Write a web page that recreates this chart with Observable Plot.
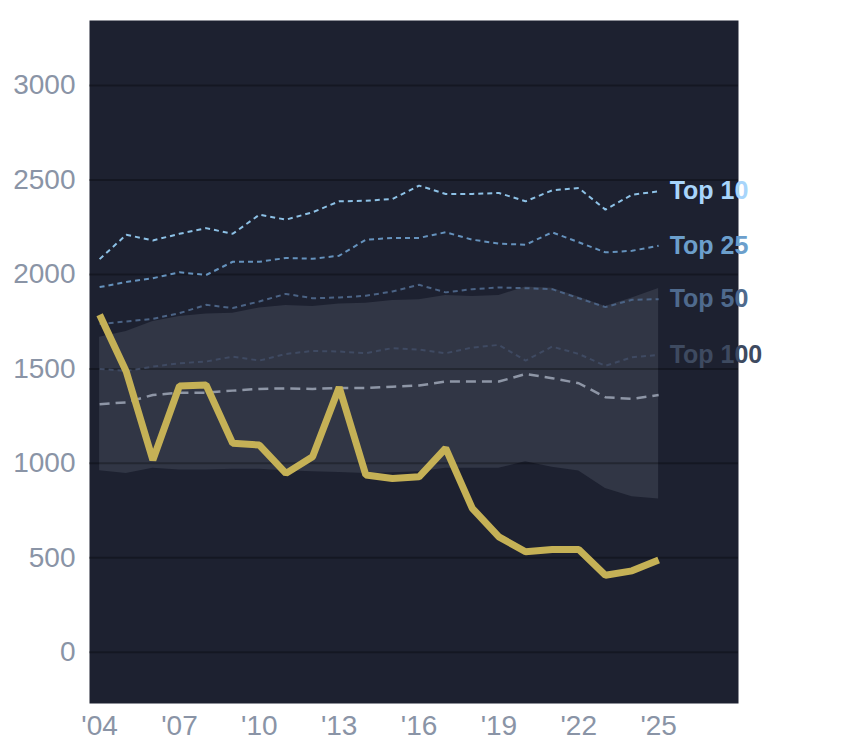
<!DOCTYPE html>
<html>
<head>
<meta charset="utf-8">
<script src="https://cdn.jsdelivr.net/npm/d3@7"></script>
<script src="https://cdn.jsdelivr.net/npm/@observablehq/plot@0.6"></script>
<style>
  html, body { margin: 0; padding: 0; background: #ffffff; }
  #chart { width: 844px; height: 748px; }
</style>
</head>
<body>
<div id="chart"></div>
<script>
const years = [2004, 2005, 2006, 2007, 2008, 2009, 2010, 2011, 2012, 2013, 2014,
               2015, 2016, 2017, 2018, 2019, 2020, 2021, 2022, 2023, 2024, 2025];

const highlight = [1786, 1486, 1018, 1410, 1415, 1106, 1097, 947, 1035, 1403, 938,
                   920, 929, 1080, 762, 611, 532, 544, 544, 408, 431, 488];

const bandLow = [961, 947, 974, 965, 965, 969, 969, 961, 955, 952, 947,
                 950, 956, 974, 974, 974, 1009, 979, 959, 867, 823, 811];
const bandHigh = [1668, 1698, 1751, 1777, 1790, 1795, 1822, 1836, 1830, 1843, 1848,
                  1862, 1866, 1889, 1883, 1889, 1933, 1927, 1880, 1830, 1875, 1925];

const median = [1313, 1323, 1362, 1374, 1374, 1385, 1394, 1397, 1394, 1399, 1399,
                1406, 1412, 1433, 1433, 1433, 1473, 1451, 1424, 1350, 1341, 1362];

const top10 = [2081, 2210, 2180, 2215, 2245, 2215, 2316, 2290, 2329, 2387, 2390,
               2399, 2470, 2426, 2426, 2431, 2387, 2445, 2457, 2343, 2422, 2440];
const top25 = [1933, 1960, 1980, 2011, 1997, 2067, 2067, 2087, 2083, 2099, 2184,
               2193, 2193, 2223, 2184, 2163, 2157, 2223, 2170, 2117, 2125, 2152];
const top50 = [1737, 1751, 1765, 1795, 1839, 1822, 1857, 1897, 1874, 1878, 1887,
               1910, 1945, 1905, 1922, 1931, 1927, 1922, 1874, 1827, 1866, 1869];
const top100 = [1500, 1489, 1512, 1530, 1539, 1565, 1544, 1579, 1595, 1592, 1583,
                1610, 1602, 1583, 1613, 1627, 1544, 1618, 1579, 1516, 1562, 1574];

const tierNames = ["Top 10", "Top 25", "Top 50", "Top 100"];
const tierSeries = [top10, top25, top50, top100];
const tierLineColors = ["#8dc1e6", "#6592bd", "#4b6385", "#3f4a62"];
const tierLabelColors = ["#a8d5fb", "#6c9fcc", "#4f6a8d", "#3e4a60"];

const yTicks = [0, 500, 1000, 1500, 2000, 2500, 3000];
const xTicks = [2004, 2007, 2010, 2013, 2016, 2019, 2022, 2025];
const xTickLabels = ["'04", "'07", "'10", "'13", "'16", "'19", "'22", "'25"];

const rows = years.map((year, i) => ({
  year, highlight: highlight[i], low: bandLow[i], high: bandHigh[i], median: median[i]
}));
const tierRows = tierNames.flatMap((name, k) =>
  years.map((year, i) => ({ tier: name, year, value: tierSeries[k][i] })));
const lastLabels = tierNames.map((name, k) => ({
  tier: name, year: years[years.length - 1], value: tierSeries[k][tierSeries[k].length - 1]
}));

const font = "'Liberation Sans', Arial, Helvetica, sans-serif";

const tierLines = tierNames.map((name, k) =>
  Plot.line(tierRows.filter(d => d.tier === name), {
    x: "year", y: "value", stroke: tierLineColors[k], strokeWidth: 2,
    strokeDasharray: "5,4", strokeLinecap: "butt", strokeLinejoin: "miter"
  }));

const tierTexts = tierNames.map((name, k) =>
  Plot.text([lastLabels[k]], {
    x: "year", y: "value", text: "tier", fill: tierLabelColors[k],
    textAnchor: "start", dx: 11, fontSize: 25, fontWeight: "bold", fontFamily: font
  }));

const chart = Plot.plot({
  width: 844,
  height: 748,
  marginLeft: 89,
  marginRight: 106,
  marginTop: 20,
  marginBottom: 45,
  style: { fontFamily: font, background: "#ffffff", color: "#8a94a6" },
  x: { type: "linear", domain: [2003.62, 2028], axis: null, label: null },
  y: { domain: [-271, 3344], axis: null, label: null },
  marks: [
    Plot.frame({ fill: "#1d2130", stroke: "none" }),
    Plot.areaY(rows, { x: "year", y1: "low", y2: "high", fill: "#313645" }),
    Plot.ruleY(yTicks, { stroke: "#000000", strokeOpacity: 0.28, strokeWidth: 2 }),
    Plot.line(rows, {
      x: "year", y: "median", stroke: "#8e96a6", strokeWidth: 2.5,
      strokeDasharray: "10,6", strokeLinecap: "butt"
    }),
    ...tierLines,
    Plot.line(rows, {
      x: "year", y: "highlight", stroke: "#c5b156", strokeWidth: 7,
      strokeLinecap: "butt", strokeLinejoin: "miter"
    }),
    ...tierTexts,
    Plot.axisY(yTicks, {
      tickSize: 0, tickPadding: 14, fontSize: 28, fontFamily: font, fill: "#8a94a6",
      tickFormat: (d) => String(d), label: null
    }),
    Plot.axisX(xTicks, {
      tickSize: 0, tickPadding: 12, fontSize: 28, fontFamily: font, fill: "#8a94a6",
      tickFormat: (d) => xTickLabels[xTicks.indexOf(d)], label: null
    })
  ]
});

document.getElementById("chart").appendChild(chart);
</script>
</body>
</html>
